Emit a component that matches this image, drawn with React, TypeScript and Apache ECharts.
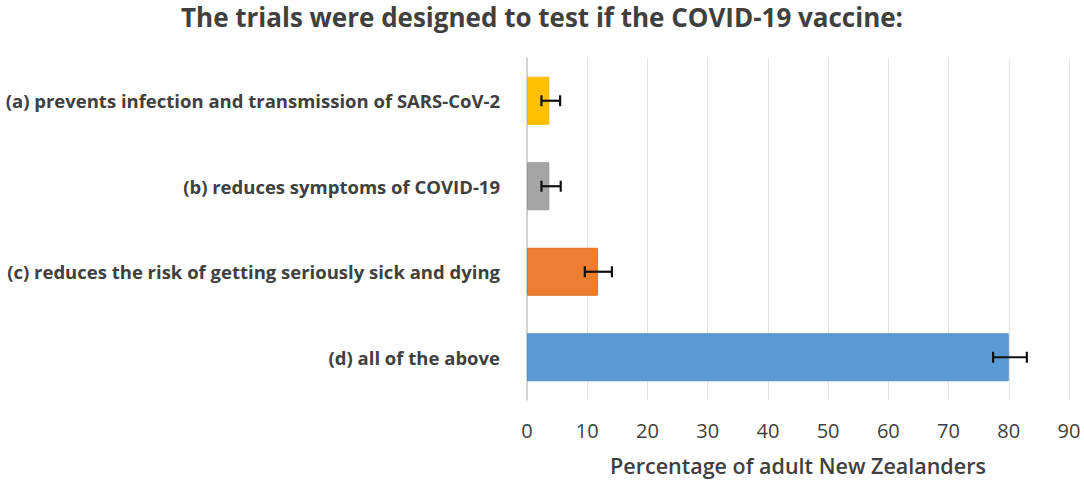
import React, { useEffect, useRef } from "react";
import * as echarts from "echarts";

const categories = [
  "(a) prevents infection and transmission of SARS-CoV-2",
  "(b) reduces symptoms of COVID-19",
  "(c) reduces the risk of getting seriously sick and dying",
  "(d) all of the above",
];
const values = [3.7, 3.7, 11.8, 80];
const errLow = [2.4, 2.4, 9.6, 77.4];
const errHigh = [5.5, 5.6, 14.1, 83.0];
const barColors = ["#FFC000", "#A5A5A5", "#ED7D31", "#5B9BD5"];
const barBorders = ["#F2B600", "#9A9A9A", "#E07025", "#5590C8"];
const xTicks = [0, 10, 20, 30, 40, 50, 60, 70, 80, 90];

const FONT = "'Open Sans', 'DejaVu Sans', sans-serif";

export default function App() {
  const ref = useRef<HTMLDivElement>(null);
  useEffect(() => {
    document.body.style.margin = "0";
    const chart = echarts.init(ref.current!, null, { renderer: "svg" });
    chart.setOption({
      animation: false,
      backgroundColor: "#ffffff",
      title: {
        text: "The trials were designed to test if the COVID-19 vaccine:",
        left: "center",
        top: -1,
        textStyle: { fontFamily: FONT, fontSize: 26, fontWeight: "bold", color: "#404040" },
      },
      grid: { left: 527, right: 15, top: 58, bottom: 79, containLabel: false },
      xAxis: {
        type: "value",
        min: xTicks[0],
        max: xTicks[xTicks.length - 1],
        interval: 10,
        axisLine: { show: false },
        axisTick: { show: false },
        splitLine: { show: true, lineStyle: { color: "#E3E3E3", width: 1 } },
        axisLabel: { margin: 20, fontFamily: FONT, fontSize: 20, color: "#404040" },
        name: "Percentage of adult New Zealanders",
        nameLocation: "middle",
        nameGap: 54,
        nameTextStyle: { fontFamily: FONT, fontSize: 21.5, fontWeight: 600, color: "#404040" },
      },
      yAxis: {
        type: "category",
        data: categories,
        inverse: true,
        axisLine: { show: true, lineStyle: { color: "#C8C8C8", width: 1.5 } },
        axisTick: { show: false },
        axisLabel: { margin: 27, fontFamily: FONT, fontSize: 18.5, fontWeight: "bold", color: "#404040" },
      },
      series: [
        {
          type: "bar",
          barWidth: 48,
          data: values.map((v, i) => ({
            value: v,
            itemStyle: { color: barColors[i], borderColor: barBorders[i], borderWidth: 1 },
          })),
          z: 2,
        },
        {
          type: "custom",
          z: 5,
          data: categories.map((c, i) => [i, errLow[i], errHigh[i]]),
          encode: { y: 0, x: [1, 2] },
          renderItem: (params: any, api: any) => {
            const idx = api.value(0);
            const p1 = api.coord([api.value(1), idx]);
            const p2 = api.coord([api.value(2), idx]);
            const h = 5.5;
            const style = { stroke: "#111111", lineWidth: 2.2 };
            return {
              type: "group",
              children: [
                { type: "line", shape: { x1: p1[0], y1: p1[1], x2: p2[0], y2: p2[1] }, style },
                { type: "line", shape: { x1: p1[0], y1: p1[1] - h, x2: p1[0], y2: p1[1] + h }, style },
                { type: "line", shape: { x1: p2[0], y1: p2[1] - h, x2: p2[0], y2: p2[1] + h }, style },
              ],
            };
          },
        },
      ],
    });
    return () => chart.dispose();
  }, []);
  return <div ref={ref} style={{ position: "fixed", left: 0, top: 0, width: 1084, height: 481 }} />;
}
